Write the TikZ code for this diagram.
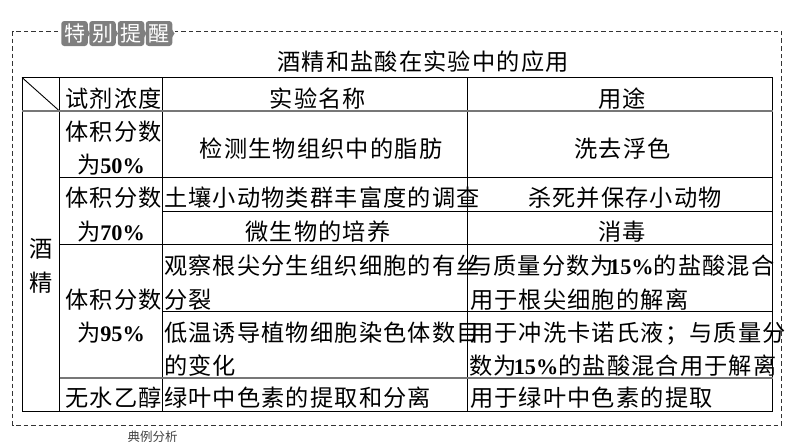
\documentclass[tikz,border=0pt]{standalone}
\usepackage{fontspec}
\setmainfont{Noto Sans CJK SC}
\newfontfamily\cjk[LetterSpace=5]{Noto Sans CJK SC}
\newfontfamily\numfont[Scale=0.96]{Liberation Serif}
\newcommand{\num}[1]{{\numfont\bfseries #1\%}}
\definecolor{badgegray}{HTML}{7F7F7F}
\definecolor{rulegray}{HTML}{777777}
\tikzset{
  cell/.style={inner sep=0pt, text height=21pt, text depth=2pt, font=\fontsize{23.2}{24}\cjk},
  cellleft/.style={cell, anchor=west},
  badge/.style={fill=badgegray, rounded corners=3pt, text=white, minimum width=26.5pt, minimum height=25pt, inner sep=0pt, font=\fontsize{21}{23}\selectfont},
  tick/.style={fill=badgegray, draw=none},
  gridline/.style={line width=0.9pt, black},
  softline/.style={line width=1.3pt, rulegray},
  frame/.style={line width=0.8pt, black!80, dash pattern=on 4.5pt off 3pt}
}
\begin{document}
\begin{tikzpicture}[x=1pt,y=-1pt]
\useasboundingbox (0,0) rectangle (794,447);
% dashed frame, open behind the badge
\draw[frame] (58,31.5) -- (12.5,31.5) -- (12.5,425) -- (781.5,425) -- (781.5,31.5) -- (175,31.5);
% badge
\foreach \x/\word/\id in {74.5/特/a,102.5/别/b,131/提/c,159/醒/d}{
  \node[badge] (badge\id) at (\x,33.5) {\word};
  \fill[tick] (\x+13,29.5) -- (\x+15.5,33.5) -- (\x+13,37.5) -- cycle;
}
% table rules
\draw[gridline] (22,77.5) rectangle (772.5,411.5);
\draw[gridline] (59.5,77.5) -- (59.5,411.5);
\draw[gridline] (162.5,77.5) -- (162.5,411.5);
\draw[gridline] (467.5,77.5) -- (467.5,411.5);
\draw[gridline] (22,77.5) -- (59.5,111);
\draw[softline] (22,111) -- (772.5,111);
\draw[gridline] (59.5,177.5) -- (772.5,177.5);
\draw[gridline] (162.5,211) -- (772.5,211);
\draw[gridline] (59.5,244.5) -- (772.5,244.5);
\draw[gridline] (162.5,311) -- (772.5,311);
\draw[softline] (59.5,378) -- (772.5,378);
% title and head row
\node[cell] (title) at (423,61) {酒精和盐酸在实验中的应用};
\node[cell] (headconc) at (113.5,98) {试剂浓度};
\node[cell] (headname) at (318,98) {实验名称};
\node[cell] (headuse) at (622,98) {用途};
% first column
\node[cell] (alcoa) at (41,248) {酒};
\node[cell] (alcob) at (41,282) {精};
% concentrations
\node[cell] (confa) at (113.5,131) {体积分数};
\node[cell] (confb) at (111,164) {为\num{50}};
\node[cell] (consa) at (113.5,197) {体积分数};
\node[cell] (consb) at (111,231) {为\num{70}};
\node[cell] (conna) at (113.5,299) {体积分数};
\node[cell] (connb) at (111,332) {为\num{95}};
\node[cell] (conabs) at (113.5,397) {无水乙醇};
% experiments
\node[cell] (expfat) at (321,148) {检测生物组织中的脂肪};
\node[cellleft] (expsoil) at (164,197) {土壤小动物类群丰富度的调查};
\node[cell] (expmicro) at (318,231) {微生物的培养};
\node[cellleft] (exprooa) at (164,265) {观察根尖分生组织细胞的有丝};
\node[cellleft] (exprootb) at (164,299) {分裂};
\node[cellleft] (expcolda) at (164,332) {低温诱导植物细胞染色体数目};
\node[cellleft] (expcoldb) at (164,365) {的变化};
\node[cellleft] (expleaf) at (164,397) {绿叶中色素的提取和分离};
% uses
\node[cell] (usefat) at (622.5,148) {洗去浮色};
\node[cell] (usesoil) at (625,197) {杀死并保存小动物};
\node[cell] (usemicro) at (622,231) {消毒};
\node[cellleft] (userooa) at (469,265) {与质量分数为\kern-5pt\num{15}的盐酸混合};
\node[cellleft] (userootb) at (470,299) {用于根尖细胞的解离};
\node[cellleft] (usecolda) at (470,332) {用于冲洗卡诺氏液；与质量分};
\node[cellleft] (usecoldb) at (469,365) {数为\kern-3pt\num{15}的盐酸混合用于解离};
\node[cellleft] (useleaf) at (470,397) {用于绿叶中色素的提取};
% footer
\node[inner sep=0pt, black!75, font=\fontsize{12.5}{14}\selectfont] (footer) at (152.5,437) {典例分析};
\end{tikzpicture}
\end{document}
